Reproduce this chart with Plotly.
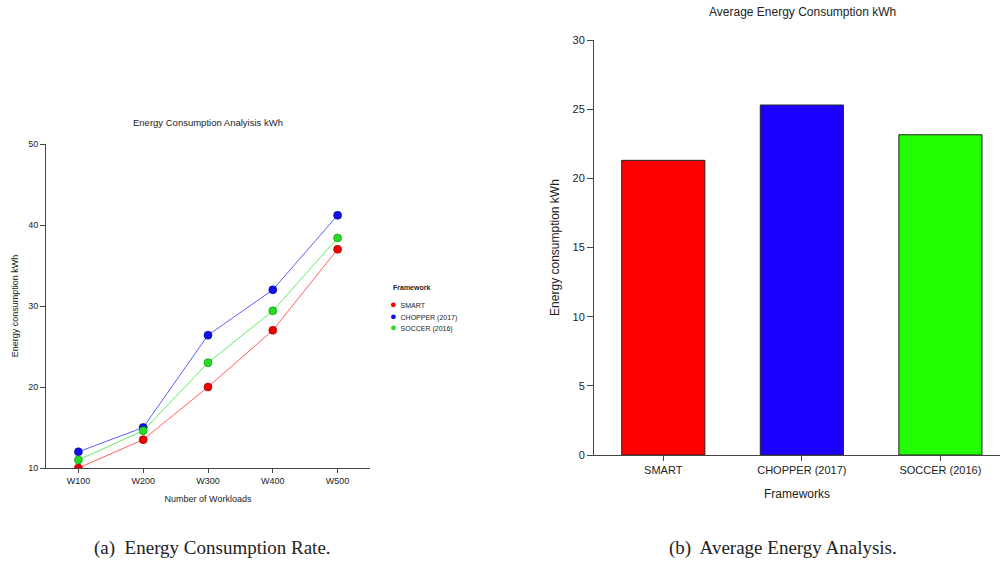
import plotly.graph_objects as go

W, H = 1001, 563

workloads = ["W100", "W200", "W300", "W400", "W500"]
smart = [10, 13.5, 20, 27, 37]
chopper = [12, 15, 26.4, 32, 41.2]
soccer = [11, 14.6, 23, 29.4, 38.4]

frameworks = ["SMART", "CHOPPER (2017)", "SOCCER (2016)"]
avg_energy = [21.3, 25.3, 23.15]

line_colors = ["rgba(255,40,40,0.75)", "rgba(40,40,255,0.75)", "rgba(40,230,40,0.75)"]
marker_colors = ["#EE0000", "#1010EE", "#22DD22"]
marker_edges = ["#990000", "#000099", "#118811"]
bar_colors = ["#FF0000", "#1C00FF", "#22FF00"]

def px(x):
    return x / W

def py(y):
    return 1 - y / H

fig = go.Figure()

for name, vals, lc, mc, me in zip(frameworks, [smart, chopper, soccer], line_colors, marker_colors, marker_edges):
    fig.add_trace(go.Scatter(
        x=workloads, y=vals, mode="lines+markers", name=name,
        line=dict(color=lc, width=1),
        marker=dict(color=mc, size=8, line=dict(color=me, width=0.6)),
        xaxis="x", yaxis="y", showlegend=False,
    ))

fig.add_trace(go.Bar(
    x=frameworks, y=avg_energy, width=0.6,
    marker=dict(color=bar_colors, line=dict(color="#222222", width=1)),
    xaxis="x2", yaxis="y2", showlegend=False,
))

font_l = dict(family="Liberation Sans, Arial, sans-serif", size=9, color="#222")
font_r = dict(family="Liberation Sans, Arial, sans-serif", size=11, color="#222")

fig.update_layout(
    width=W, height=H,
    margin=dict(l=0, r=0, t=0, b=0, pad=0, autoexpand=False),
    showlegend=False,
    paper_bgcolor="white", plot_bgcolor="white",
    xaxis=dict(
        domain=[px(46), px(370)], anchor="y",
        type="category", range=[-0.5, 4.5],
        showline=True, linecolor="#444", linewidth=1,
        showgrid=False, zeroline=False, automargin=False,
        ticks="outside", ticklen=4, tickcolor="#444",
        tickfont=font_l,
        title=dict(text="Number of Workloads", font=font_l, standoff=10),
    ),
    yaxis=dict(
        domain=[py(468), py(144)], anchor="x",
        range=[10, 50], tickvals=[10, 20, 30, 40, 50],
        showline=True, linecolor="#444", linewidth=1,
        showgrid=False, zeroline=False, automargin=False,
        ticks="outside", ticklen=5, tickcolor="#444",
        tickfont=font_l,
        title=dict(text="Energy consumption kWh", font=font_l, standoff=8),
    ),
    xaxis2=dict(
        domain=[px(594), px(1000)], anchor="y2",
        type="category", range=[-0.5, 2.43],
        showline=True, linecolor="#444", linewidth=1,
        showgrid=False, zeroline=False, automargin=False,
        ticks="outside", ticklen=5, tickcolor="#444",
        tickfont=font_r,
        title=dict(text="Frameworks", font=dict(family=font_r["family"], size=12, color="#222"), standoff=14),
    ),
    yaxis2=dict(
        domain=[py(455), py(40)], anchor="x2",
        range=[0, 30], tickvals=[0, 5, 10, 15, 20, 25, 30],
        showline=True, linecolor="#444", linewidth=1,
        showgrid=False, zeroline=False, automargin=False,
        ticks="outside", ticklen=6, tickcolor="#444",
        tickfont=font_r,
        title=dict(text="Energy consumption kWh", font=dict(family=font_r["family"], size=12, color="#222"), standoff=10),
    ),
)

annotations = [
    dict(text="Energy Consumption Analyisis kWh", x=px(208), y=py(122), font=dict(family=font_l["family"], size=9.5, color="#222")),
    dict(text="Average Energy Consumption kWh", x=px(802), y=py(12), font=dict(family=font_r["family"], size=12, color="#222")),
    dict(text="(a)  Energy Consumption Rate.", x=px(212), y=py(548), font=dict(family="Liberation Serif, serif", size=19, color="#222")),
    dict(text="(b)  Average Energy Analysis.", x=px(783), y=py(548), font=dict(family="Liberation Serif, serif", size=19, color="#222")),
    dict(text="<b>Framework</b>", x=px(411), y=py(287), font=dict(family=font_l["family"], size=7, color="#222")),
]
leg_y = [304, 316, 327]
for name, mc, yy in zip(frameworks, marker_colors, leg_y):
    annotations.append(dict(
        text=f"<span style='color:{mc};font-size:11px'>●</span>  {name}",
        x=px(388), y=py(yy), xanchor="left",
        font=dict(family=font_l["family"], size=7, color="#222"),
    ))
for a in annotations:
    a.setdefault("xanchor", "center")
    a.update(xref="paper", yref="paper", yanchor="middle", showarrow=False)
fig.update_layout(annotations=annotations)

fig.write_html("out.html")
